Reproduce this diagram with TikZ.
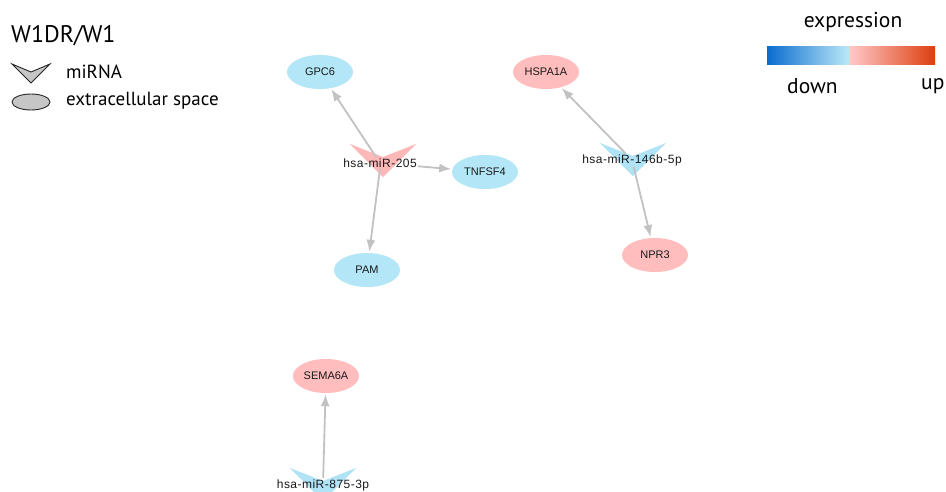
\documentclass[tikz,border=0pt]{standalone}
\usepackage{fontspec}
\setmainfont{Liberation Sans}
\newfontfamily\legfont{PT Sans}
\usetikzlibrary{arrows.meta,shapes.geometric}
\definecolor{nblue}{HTML}{B3E6F6}
\definecolor{npink}{HTML}{FFBDBD}
\definecolor{cblue}{HTML}{B0E3F5}
\definecolor{cpink}{HTML}{FFB8B8}
\definecolor{egray}{HTML}{C2C2C2}
\definecolor{gblue}{HTML}{0A6CCF}
\definecolor{glight}{HTML}{BCE8F7}
\definecolor{gpinkl}{HTML}{FFC9C9}
\definecolor{gred}{HTML}{DE3E0E}
\tikzset{
  gene/.style={ellipse, minimum width=66pt, minimum height=34pt, inner sep=0pt, font=\fontsize{11}{13}\selectfont, text=black!90},
  bluegene/.style={gene, fill=nblue},
  pinkgene/.style={gene, fill=npink},
  mirlabel/.style={inner sep=1pt, font=\addfontfeatures{LetterSpace=4}\fontsize{12}{14}\selectfont, text=black!90},
  edge/.style={draw=egray, line width=1.8pt, -{Latex[length=12pt,width=9pt]}, shorten >=1pt},
  legtext/.style={font=\legfont\fontsize{19}{22}\selectfont, anchor=west, inner sep=0pt},
  exptext/.style={font=\legfont\fontsize{21.5}{25}\selectfont, inner sep=0pt}
}
\newcommand{\chevshape}[3]{%
  \fill[#3] (#1-33,#2-16) -- (#1,#2-3) -- (#1+33,#2-16) -- (#1,#2+17) -- cycle;}
\begin{document}
\begin{tikzpicture}[x=1pt,y=-1pt]
\useasboundingbox (0,0) rectangle (946,491);
\fill[white] (0,0) rectangle (946,491);
% ---- left legend
\node[legtext, font=\legfont\fontsize{24}{28}\selectfont] (title) at (11,36) {W1DR/W1};
\filldraw[fill=gray!45, draw=black!85, line width=0.9pt] (12,64) -- (31,72) -- (50,64) -- (31,83) -- cycle;
\node[legtext] (lmir) at (66,72) {miRNA};
\draw[fill=gray!45, draw=black!85, line width=0.9pt] (31,102) ellipse [x radius=19, y radius=8];
\node[legtext] (lext) at (66,101) {extracellular space};
% ---- expression legend
\node[exptext] (exptitle) at (853,22) {expression};
\shade[left color=gblue, right color=glight] (767,46) rectangle (849,64);
\shade[left color=gpinkl, right color=gred] (849,46) rectangle (935,64);
\node[exptext, anchor=west] (down) at (787,86) {down};
\node[exptext, anchor=west] (up) at (921,86) {up};
% ---- miRNA chevrons
\chevshape{383}{160}{cpink}
\chevshape{633}{159}{cblue}
\chevshape{323}{484}{cblue}
\node[mirlabel] (m205) at (380,163) {hsa-miR-205};
\node[mirlabel] (m146) at (632,160) {hsa-miR-146b-5p};
\node[mirlabel] (m875) at (323,485) {hsa-miR-875-3p};
% ---- genes
\node[bluegene] (gpc6) at (320,72) {GPC6};
\node[bluegene] (tnfsf4) at (485,172) {TNFSF4};
\node[bluegene] (pam) at (367,270) {PAM};
\node[pinkgene] (hspa1a) at (546,72) {HSPA1A};
\node[pinkgene] (npr3) at (655,255) {NPR3};
\node[pinkgene] (sema6a) at (326,376) {SEMA6A};
% ---- edges
\draw[edge] (m205) -- (gpc6);
\draw[edge] (m205) -- (tnfsf4);
\draw[edge] (m205.south) -- (pam);
\draw[edge] (m146) -- (hspa1a);
\draw[edge] (m146) -- (npr3);
\draw[edge] (m875) -- (sema6a);
\end{tikzpicture}
\end{document}
